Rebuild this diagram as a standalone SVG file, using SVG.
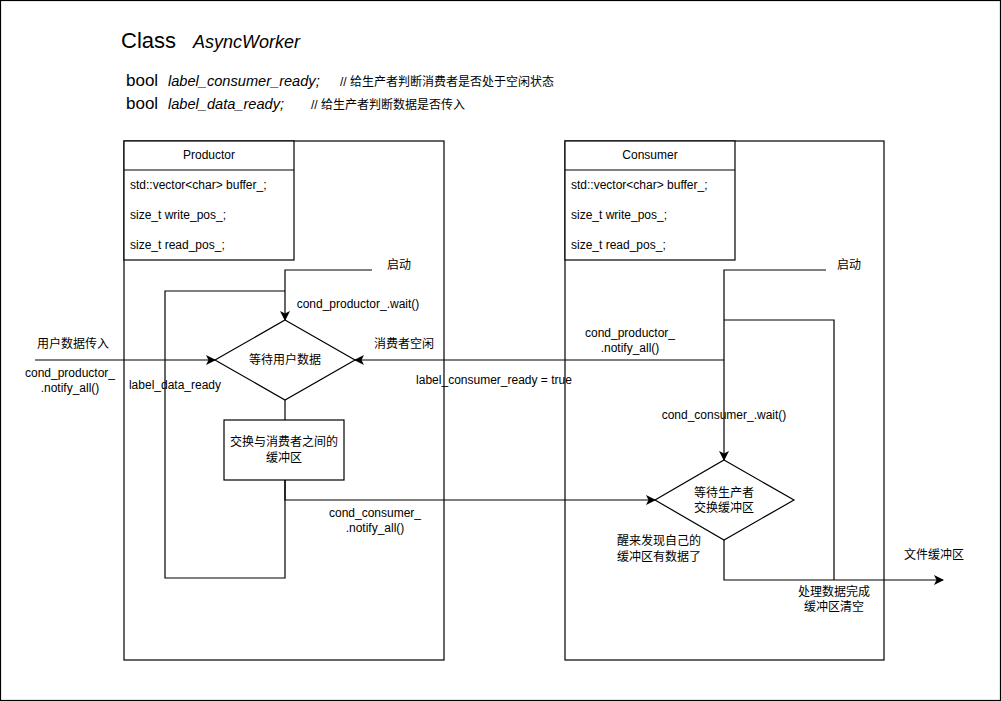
<svg xmlns="http://www.w3.org/2000/svg" width="1001" height="701" viewBox="0 0 1001 701">
<style>
.s{fill:none;stroke:#000;stroke-width:1.2}
.b{fill:#fff;stroke:#000;stroke-width:1.2}
text{font-family:"Liberation Sans","Noto Sans CJK SC",Arial,sans-serif;font-size:12px;fill:#000}
.c{text-anchor:middle}
.i{font-style:italic}
</style>
<defs>
<marker id="ar" viewBox="0 0 10 10" refX="9" refY="5" markerWidth="10" markerHeight="10" markerUnits="userSpaceOnUse" orient="auto">
<path d="M0,0 L10,5 L0,10 L2.5,5 Z" fill="#000"/>
</marker>
</defs>
<rect x="0.5" y="0.5" width="1000" height="700" fill="#fff" stroke="#000" stroke-width="1.2"/>
<g id="title">
<text x="121" y="48" style="font-size:22px">Class</text>
<text x="193" y="48" class="i" style="font-size:18px">AsyncWorker</text>
<text x="126" y="86" style="font-size:17px">bool</text>
<text x="168" y="86" class="i" style="font-size:14.6px">label_consumer_ready;</text>
<text x="340" y="86" style="font-size:12px">// 给生产者判断消费者是否处于空闲状态</text>
<text x="126" y="109" style="font-size:17px">bool</text>
<text x="168" y="109" class="i" style="font-size:14.6px">label_data_ready;</text>
<text x="311" y="109" style="font-size:12px">// 给生产者判断数据是否传入</text>
</g>
<g id="productor-frame"><rect x="124" y="141" width="320" height="519" class="b"/></g>
<g id="consumer-frame"><rect x="565" y="141" width="319" height="519" class="b"/></g>
<g id="productor-class">
<rect x="124" y="141" width="170" height="119" class="b"/>
<line x1="124" y1="170" x2="294" y2="170" class="s"/>
<text x="209" y="159" class="c">Productor</text>
<text x="130" y="189">std::vector&lt;char&gt; buffer_;</text>
<text x="130" y="219">size_t write_pos_;</text>
<text x="130" y="249">size_t read_pos_;</text>
</g>
<g id="consumer-class">
<rect x="565" y="141" width="170" height="119" class="b"/>
<line x1="565" y1="170" x2="735" y2="170" class="s"/>
<text x="650" y="159" class="c">Consumer</text>
<text x="571" y="189">std::vector&lt;char&gt; buffer_;</text>
<text x="571" y="219">size_t write_pos_;</text>
<text x="571" y="249">size_t read_pos_;</text>
</g>
<g id="connectors">
<path d="M372,270 H285 V320" class="s" marker-end="url(#ar)"/>
<path d="M285,480 V578 H165 V291 H285" class="s"/>
<path d="M285,400 V420" class="s"/>
<path d="M35,360 H215" class="s" marker-end="url(#ar)"/>
<path d="M285,480 V500 H655" class="s" marker-end="url(#ar)"/>
<path d="M826,270 H724 V460" class="s" marker-end="url(#ar)"/>
<path d="M724,360 H355" class="s" marker-end="url(#ar)"/>
<path d="M724,540 V580 H943" class="s" marker-end="url(#ar)"/>
<path d="M834,580 V320 H724" class="s"/>
</g>
<g id="wait-user-data">
<path d="M285,320 L355,360 L285,400 L215,360 Z" class="b"/>
<text x="285" y="364" class="c">等待用户数据</text>
</g>
<g id="swap-buffer">
<rect x="224" y="420" width="120" height="60" class="b"/>
<text x="284" y="446" class="c">交换与消费者之间的</text>
<text x="284" y="462" class="c">缓冲区</text>
</g>
<g id="wait-producer">
<path d="M724,460 L794,500 L724,540 L655,500 Z" class="b"/>
<text x="724" y="497" class="c">等待生产者</text>
<text x="724" y="512" class="c">交换缓冲区</text>
</g>
<g id="labels">
<text x="399" y="269" class="c">启动</text>
<text x="358" y="308" class="c">cond_productor_.wait()</text>
<text x="73" y="348" class="c">用户数据传入</text>
<text x="70" y="377" class="c">cond_productor_</text>
<text x="70" y="392" class="c">.notify_all()</text>
<text x="175" y="389" class="c">label_data_ready</text>
<text x="404" y="348" class="c">消费者空闲</text>
<text x="494" y="384" class="c">label_consumer_ready = true</text>
<text x="630" y="337" class="c">cond_productor_</text>
<text x="630" y="352" class="c">.notify_all()</text>
<text x="849" y="269" class="c">启动</text>
<text x="724" y="419" class="c">cond_consumer_.wait()</text>
<text x="375" y="517" class="c">cond_consumer_</text>
<text x="375" y="532" class="c">.notify_all()</text>
<text x="659" y="545" class="c">醒来发现自己的</text>
<text x="659" y="561" class="c">缓冲区有数据了</text>
<text x="934" y="559" class="c">文件缓冲区</text>
<text x="834" y="596" class="c">处理数据完成</text>
<text x="834" y="611" class="c">缓冲区清空</text>
</g>
</svg>
